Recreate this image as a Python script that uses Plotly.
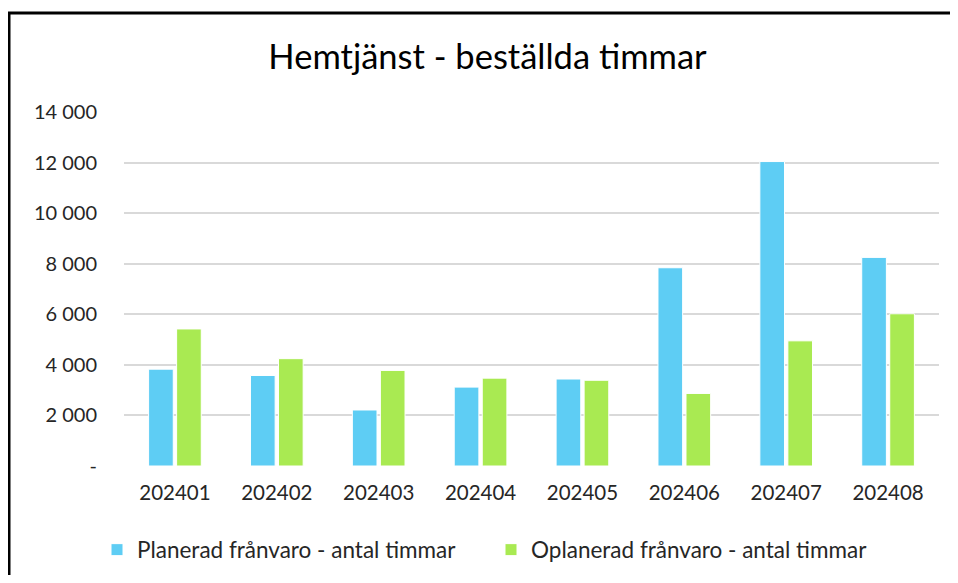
import plotly.graph_objects as go

categories = ["202401", "202402", "202403", "202404", "202405", "202406", "202407", "202408"]
planerad = [3830, 3580, 2215, 3120, 3440, 7840, 12040, 8250]
oplanerad = [5420, 4245, 3780, 3475, 3390, 2870, 4950, 6020]
tick_vals = [0, 2000, 4000, 6000, 8000, 10000, 12000, 14000]
tick_text = ["-", "2 000", "4 000", "6 000", "8 000", "10 000", "12 000", "14 000"]

FONT = "Lato, Carlito, 'Liberation Sans', sans-serif"
TXT = "#262626"

fig = go.Figure()
fig.add_trace(go.Bar(x=categories, y=planerad, name="Planerad frånvaro - antal timmar",
                     marker=dict(color="#5ECDF4", line=dict(color="white", width=1))))
fig.add_trace(go.Bar(x=categories, y=oplanerad, name="Oplanerad frånvaro - antal timmar",
                     marker=dict(color="#A9EA52", line=dict(color="white", width=1))))

# page body has an 8px margin, so the figure is sized/positioned to compensate
OFF = 8
W, H = 958 - 2 * OFF, 583 - 2 * OFF
L = 124 - OFF
T = 112 - OFF
B = H - (466 - OFF)
R = W - (939 - OFF)
pw = W - L - R
ph = H - T - B

def px(xpage):
    return (xpage - OFF - L) / pw

def py(ypage):
    return (H - B - (ypage - OFF)) / ph

fig.update_layout(
    width=W, height=H,
    margin=dict(l=L, r=R, t=T, b=B, autoexpand=False),
    paper_bgcolor="white", plot_bgcolor="white",
    barmode="group", bargap=0.45, bargroupgap=0.12,
    font=dict(family=FONT, size=20, color=TXT),
    title=dict(text="Hemtjänst - beställda timmar", x=(487.5 - OFF) / W, xanchor="center",
               y=1 - (57 - OFF) / H, yanchor="middle",
               font=dict(family=FONT, size=34.5, color="#000000")),
    xaxis=dict(showgrid=False, showline=False, ticks="", tickfont=dict(size=20.5, color=TXT),
               ticklabelstandoff=12),
    yaxis=dict(range=[0, 14000], tickvals=tick_vals, ticktext=tick_text,
               showgrid=True, gridcolor="#D9D9D9", gridwidth=2, zeroline=False,
               showline=False, ticks="", tickfont=dict(size=20, color=TXT),
               ticklabelstandoff=26),
    legend=dict(orientation="h", x=px(97), xanchor="left", y=py(550), yanchor="middle",
                font=dict(size=22.5, color=TXT), itemwidth=30, traceorder="normal",
                entrywidth=349, entrywidthmode="pixels"),
    showlegend=True,
)

fig.add_shape(type="line", xref="paper", yref="paper",
              x0=px(OFF + 1), x1=px(OFF + 1), y0=py(12), y1=py(620),
              line=dict(color="black", width=3))
fig.add_shape(type="line", xref="paper", yref="paper",
              x0=px(OFF), x1=px(990), y0=py(13), y1=py(13),
              line=dict(color="black", width=3))

fig.write_html("out.html")
